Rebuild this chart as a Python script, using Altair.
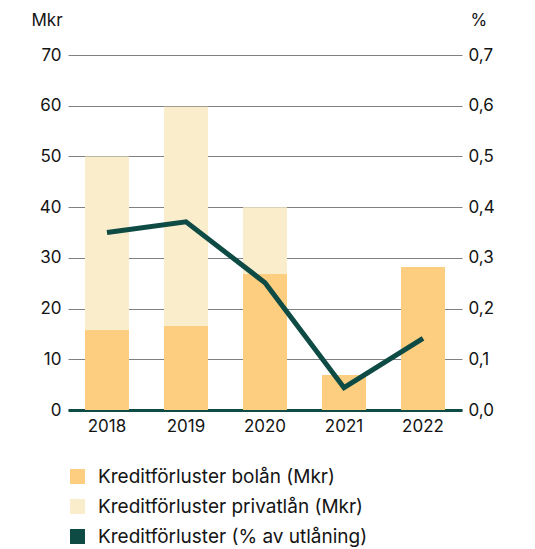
import altair as alt
import pandas as pd

years = ["2018", "2019", "2020", "2021", "2022"]
bolan = [15.8, 16.6, 26.8, 6.9, 28.2]
privat = [34.2, 43.2, 13.2, 0.0, 0.0]
pct = [0.35, 0.371, 0.251, 0.044, 0.141]

series = ["Kreditförluster bolån (Mkr)", "Kreditförluster privatlån (Mkr)", "Kreditförluster (% av utlåning)"]
colors = ["#FDCD80", "#F9EDCB", "#0E4B45"]

rows = []
for i, y in enumerate(years):
    rows.append({"year": y, "serie": series[0], "value": bolan[i], "ord": 0})
    rows.append({"year": y, "serie": series[1], "value": privat[i], "ord": 1})
bars_df = pd.DataFrame(rows)
line_df = pd.DataFrame({"year": years, "pct": pct})

FONT = "Inter"
TXT = "#141414"

xscale = alt.Scale(paddingInner=0.443, paddingOuter=0.215)
xenc = alt.X("year:N", scale=xscale, sort=years,
             axis=alt.Axis(title=None, labelAngle=0, ticks=False, labelPadding=8,
                           labelFontSize=17, labelColor=TXT, labelFont=FONT,
                           domainColor="#0E4B45", domainWidth=3, grid=False))

bars = alt.Chart(bars_df).mark_bar().encode(
    x=xenc,
    y=alt.Y("value:Q", stack="zero",
            scale=alt.Scale(domain=[0, 70]),
            axis=alt.Axis(values=[0, 10, 20, 30, 40, 50, 60, 70], title="Mkr", titleAngle=0,
                          titleX=-37, titleY=-35, titleAlign="left", titleBaseline="middle",
                          titleFontSize=17, titleFontWeight="normal", titleFont=FONT, titleColor=TXT,
                          labelFontSize=17, labelColor=TXT, labelFont=FONT, labelPadding=7,
                          ticks=False, domain=False, grid=True, gridColor="#808080", gridWidth=1)),
    color=alt.Color("serie:N", scale=alt.Scale(domain=series, range=colors),
                    legend=alt.Legend(title=None, orient="none", legendX=0, legendY=412,
                                      symbolType="square", symbolSize=225, symbolStrokeWidth=0,
                                      labelFontSize=19, labelFont=FONT, labelColor=TXT,
                                      labelLimit=500,
                                      rowPadding=10, labelOffset=11, padding=0)),
    order=alt.Order("ord:Q", sort="ascending"),
)

line = alt.Chart(line_df).mark_line(color="#0E4B45", strokeWidth=5).encode(
    x=alt.X("year:N", scale=xscale, sort=years),
    y=alt.Y("pct:Q", scale=alt.Scale(domain=[0, 0.7]),
            axis=alt.Axis(orient="right", values=[0, 0.1, 0.2, 0.3, 0.4, 0.5, 0.6, 0.7],
                          labelExpr="replace(format(datum.value, '.1f'), '.', ',')",
                          title="%", titleAngle=0, titleX=8, titleY=-35, titleAlign="left",
                          titleBaseline="middle", titleFontSize=17, titleFontWeight="normal",
                          titleFont=FONT, titleColor=TXT,
                          labelFontSize=17, labelColor=TXT, labelFont=FONT, labelPadding=6,
                          ticks=False, domain=False, grid=False)),
)

chart = alt.layer(bars, line).resolve_scale(y="independent").properties(
    width=394, height=355, padding={"left": 23, "top": 3, "right": 5, "bottom": 0}
).configure_view(stroke=None)

chart.save("out.html", embed_options={"renderer": "svg", "actions": False})
